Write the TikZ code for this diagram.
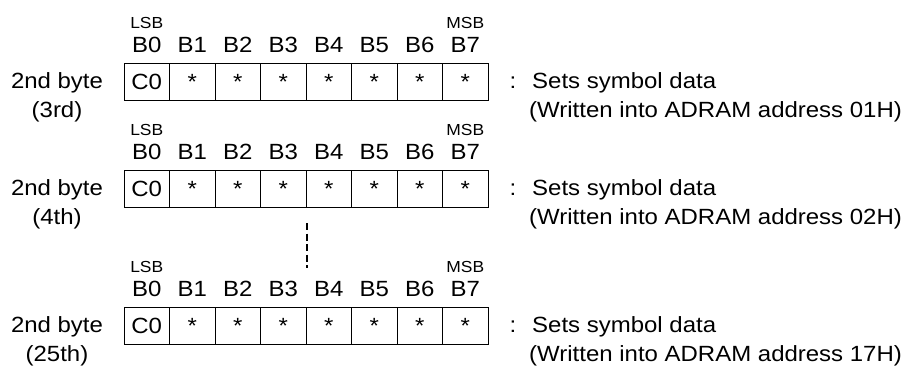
\documentclass[tikz,border=0pt]{standalone}
\usepackage{fontspec}
\setmainfont{Liberation Sans}[FakeStretch=1.09]
\newcommand\mainsz{\fontsize{22}{26}\selectfont}
\newcommand\smallsz{\fontsize{16}{19}\selectfont}

\begin{document}
\begin{tikzpicture}[x=1pt,y=-1pt,
  bitcell/.style={draw,line width=1pt,minimum width=45.5pt,minimum height=37pt,inner sep=0pt,font=\mainsz},
  bitlbl/.style={anchor=base,inner sep=0pt,font=\mainsz},
  sblbl/.style={anchor=base,inner sep=0pt,font=\smallsz},
  notetxt/.style={anchor=base west,inner sep=0pt,font=\mainsz},
  gapline/.style={line width=2pt,dash pattern=on 7pt off 3.5pt}]
\useasboundingbox (0,0) rectangle (907,367);

\foreach \r/\t/\ord/\adr in {a/63/3rd/01,b/170/4th/02,c/307/25th/17}{
  % register cells
  \node[bitcell] (\r-c0) at (146.75,\t+18.5) {C0};
  \foreach \i in {1,...,7}
    \node[bitcell] (\r-c\i) at (146.75+45.5*\i,\t+18.5) {*};
  \foreach \i in {0,...,7}
    \node[bitlbl] (\r-b\i) at (146.75+45.5*\i,\t-10.3) {B\i};
  \node[sblbl] (\r-lsb) at (146.75,\t-34.7) {LSB};
  \node[sblbl] (\r-msb) at (465.25,\t-34.7) {MSB};
  % byte name
  \node[bitlbl] (\r-nm) at (57,\t+25) {2nd byte};
  \node[bitlbl] (\r-ord) at (57,\t+54.5) {(\ord)};
  % note
  \node[bitlbl] (\r-col) at (513,\t+25) {:};
  \node[notetxt] (\r-set) at (532,\t+25) {Sets symbol data};
  \node[notetxt] (\r-adr) at (529,\t+54.5) {(Written into ADRAM address \adr H)};
}

\coordinate (dtop) at (306.5,223);
\coordinate (dbot) at (306.5,268);
\draw[gapline] (dtop) -- (dbot);
\end{tikzpicture}
\end{document}
